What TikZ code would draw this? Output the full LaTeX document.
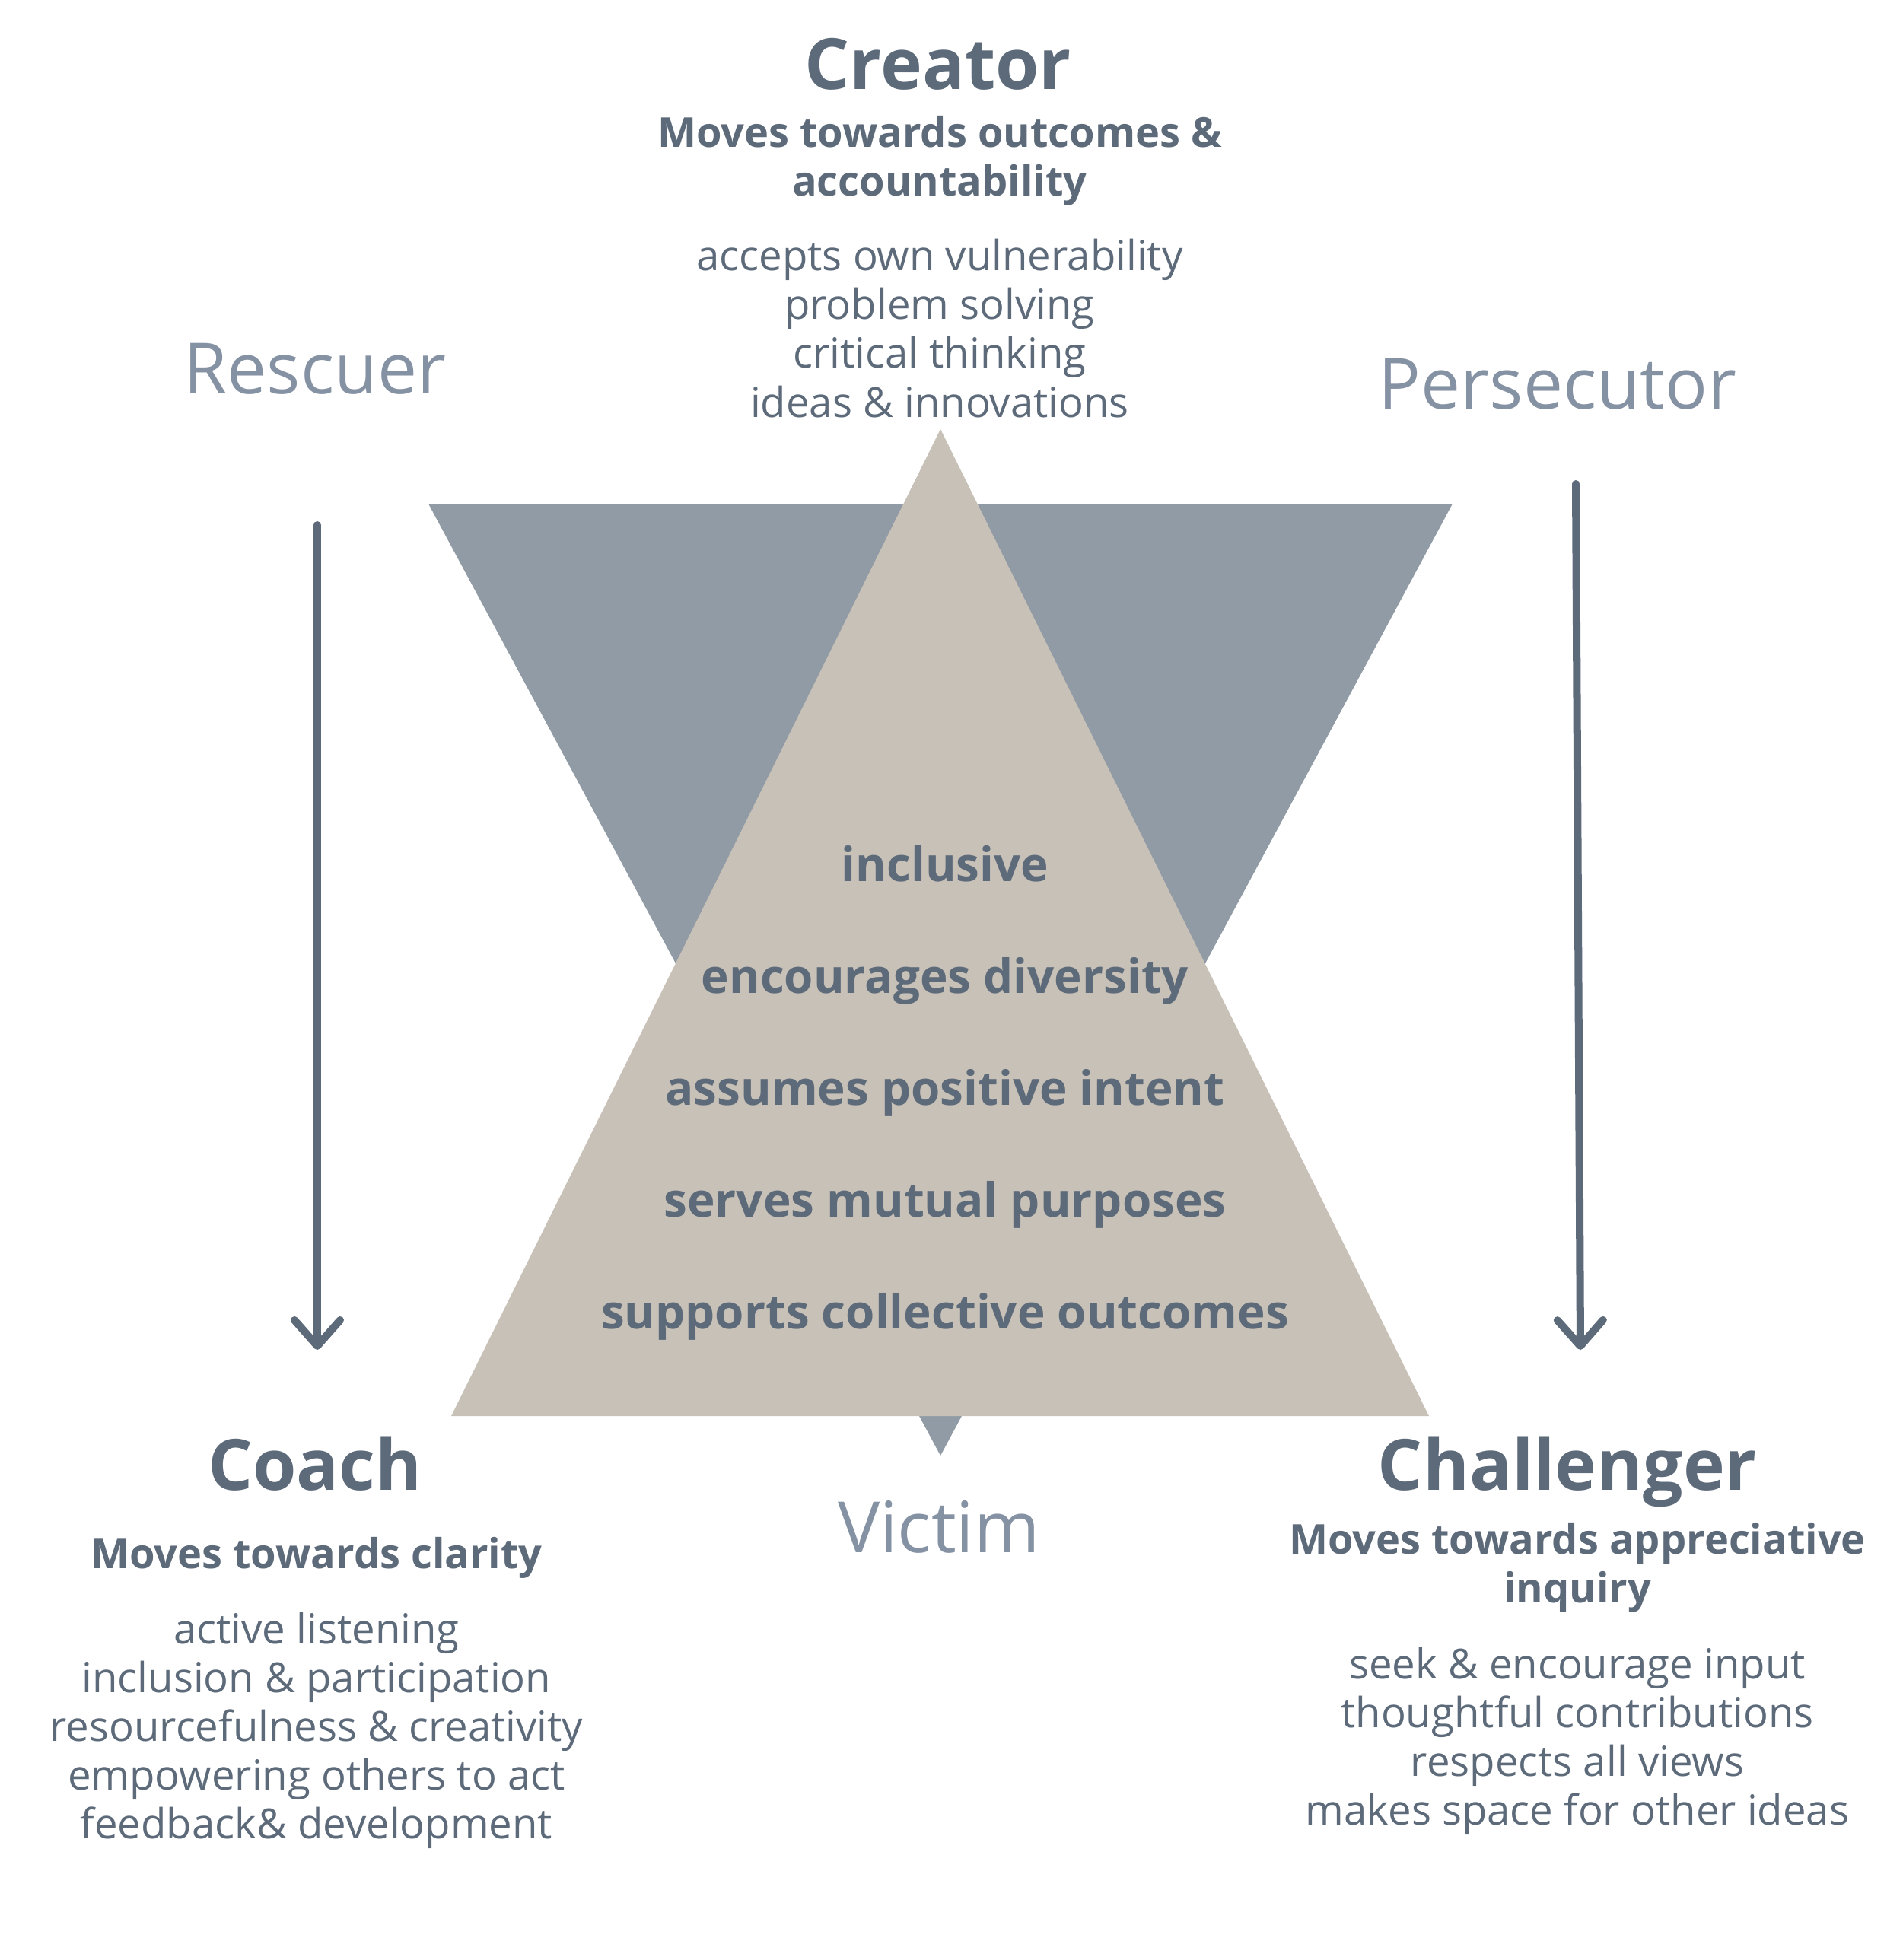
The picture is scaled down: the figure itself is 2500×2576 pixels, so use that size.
\documentclass[tikz,border=0pt]{standalone}
\usepackage{fontspec}
\setmainfont{Open Sans}
\usepackage{tikz}
\usetikzlibrary{arrows.meta,positioning}
\definecolor{slatetext}{RGB}{93,106,122}
\definecolor{mutedslate}{RGB}{133,146,164}
\definecolor{greytri}{RGB}{145,155,165}
\definecolor{sandtri}{RGB}{200,193,183}

\begin{document}
\begin{tikzpicture}[x=0.01cm, y=-0.01cm,
  every node/.style={text=slatetext, inner sep=0pt, outer sep=0pt},
  rolehead/.style={anchor=base, font=\bfseries\fontsize{26.4}{32}\selectfont},
  movesline/.style={anchor=base, align=center, font=\bfseries\fontsize{15.4}{18.2}\selectfont},
  itemline/.style={anchor=base, align=center, font=\fontsize{15.5}{18.2}\selectfont},
  dramarole/.style={anchor=base, text=mutedslate, font=\fontsize{26.4}{31}\selectfont},
  traitline/.style={anchor=base, font=\bfseries\fontsize{17.6}{21}\selectfont},
  arrowline/.style={draw=slatetext, line width=2.85pt, line cap=round, -{Straight Barb[length=3.4mm, width=6mm, round]}}]
  \useasboundingbox (0,0) rectangle (2500,2576);
  % the two triangles
  \fill[greytri] (563,662) -- (1909,662) -- (1236,1913) -- cycle;
  \fill[sandtri] (1236,564) -- (1878,1861) -- (593,1861) -- cycle;
  % top (multi-line nodes sit on their last line)
  \node[rolehead] (creator) at (1233,118) {Creator};
  \node[movesline] (creatormoves) at (1235,258) {Moves towards outcomes \&\\accountability};
  \node[itemline] (creatortraits) at (1235,548) {accepts own vulnerability\\problem solving\\critical thinking\\ideas \& innovations};
  % drama roles
  \node[dramarole] (rescuer) at (414,517) {Rescuer};
  \node[dramarole] (persecutor) at (2047,537) {Persecutor};
  \node[dramarole] (victim) at (1234,2040) {Victim};
  % inside the triangle
  \node[traitline] (inclusive) at (1242,1158) {inclusive};
  \node[traitline] (diversity) at (1242,1305) {encourages diversity};
  \node[traitline] (intent) at (1242,1452) {assumes positive intent};
  \node[traitline] (purposes) at (1242,1599) {serves mutual purposes};
  \node[traitline] (outcomes) at (1242,1746) {supports collective outcomes};
  % bottom left
  \node[rolehead] (coach) at (414,1958) {Coach};
  \node[movesline] (coachmoves) at (416,2061) {Moves towards clarity};
  \node[itemline] (coachtraits) at (416,2416) {active listening\\inclusion \& participation\\resourcefulness \& creativity\\empowering others to act\\feedback\& development};
  % bottom right
  \node[rolehead] (challenger) at (2060,1958) {Challenger};
  \node[movesline] (challengermoves) at (2073,2106) {Moves towards appreciative\\inquiry};
  \node[itemline] (challengertraits) at (2073,2398) {seek \& encourage input\\thoughtful contributions\\respects all views\\makes space for other ideas};
  % arrows
  \coordinate (rescuerfrom) at (417,690);
  \coordinate (rescuerto) at (417,1774);
  \coordinate (persecutorfrom) at (2071,636);
  \coordinate (persecutorto) at (2077,1774);
  \draw[arrowline] (rescuerfrom) -- (rescuerto);
  \draw[arrowline] (persecutorfrom) -- (persecutorto);
\end{tikzpicture}
\end{document}
